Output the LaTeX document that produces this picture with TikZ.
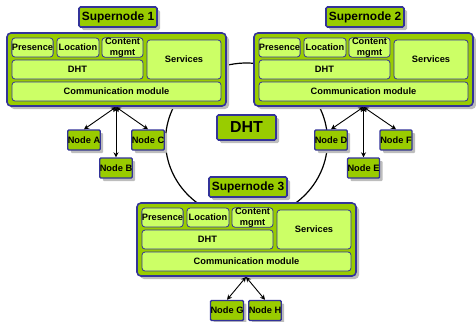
\documentclass[tikz,border=0pt]{standalone}
\usepackage{fontspec}
\setmainfont{Liberation Sans}
\usetikzlibrary{shadows,arrows.meta}
\definecolor{olive}{HTML}{99CC00}
\definecolor{lightg}{HTML}{CCFF66}
\definecolor{bcol}{HTML}{333399}
\definecolor{shadowg}{HTML}{BDBDBD}
\tikzset{
  shad/.style={drop shadow={shadow xshift=3bp,shadow yshift=-3bp,fill=shadowg,opacity=1}},
  outer/.style={draw=bcol,line width=1.6bp,fill=olive,rounded corners=4bp,shad,inner sep=0pt},
  lab/.style={draw=bcol,line width=1.6bp,fill=olive,rounded corners=1.5bp,shad,inner sep=0pt,
    font=\fontsize{12}{12}\selectfont\bfseries},
  inner/.style={draw=bcol,line width=0.8bp,fill=lightg,rounded corners=3bp,inner sep=0pt,
    font=\fontsize{9.3}{11}\selectfont\bfseries,align=center},
  leaf/.style={draw=bcol,line width=1.4bp,fill=olive,rounded corners=1bp,shad,inner sep=0pt,
    minimum width=32bp,minimum height=20bp,font=\fontsize{9.3}{9.5}\selectfont\bfseries},
  link/.style={{Stealth[length=5bp,width=5bp]}-{Stealth[length=5bp,width=5bp]},line width=0.9bp,black},
  ring/.style={line width=1.2bp,black}
}
\newcommand\snblock[3]{%
\begin{scope}[shift={(#2,#3)}]
\node[lab,minimum width=78bp,minimum height=20bp] (lab#1) at (118,17) {Supernode #1};
\node[outer,minimum width=219bp,minimum height=73bp] (sn#1) at (116.5,69.5) {};
\node[inner,minimum width=41bp,minimum height=19bp] (pres#1) at (32.5,47.5) {Presence};
\node[inner,minimum width=42bp,minimum height=19bp] (loc#1) at (78,47.5) {Location};
\node[inner,minimum width=41bp,minimum height=19bp] (cont#1) at (122.5,47.5) {Content\\mgmt};
\node[inner,minimum width=74bp,minimum height=39bp] (serv#1) at (184,59.5) {Services};
\node[inner,minimum width=131bp,minimum height=19bp] (dht#1) at (77.5,69.5) {DHT};
\node[inner,minimum width=209bp,minimum height=19bp] (com#1) at (116.5,91.5) {Communication module};
\end{scope}}
\begin{document}
\begin{tikzpicture}[x=1bp,y=-1bp]
\useasboundingbox (0,0) rectangle (476,321);
\draw[ring] (246.5,141) ellipse [x radius=81, y radius=78];
\snblock{1}{0}{0}
\snblock{2}{247}{0}
\snblock{3}{130}{170}
\node[lab,minimum width=59bp,minimum height=25bp,font=\fontsize{16}{16}\selectfont\bfseries] (dhtmain) at (246.5,127.5) {DHT};
\node[leaf] (nA) at (84,140) {Node A};
\node[leaf] (nC) at (148,140) {Node C};
\node[leaf] (nB) at (116,168) {Node B};
\node[leaf] (nD) at (331,140) {Node D};
\node[leaf] (nF) at (396,140) {Node F};
\node[leaf] (nE) at (363.5,168) {Node E};
\node[leaf] (nG) at (227,310.5) {Node G};
\node[leaf] (nH) at (265,310.5) {Node H};
\coordinate (h1) at (116,107);
\coordinate (h2) at (363.5,107);
\coordinate (h3) at (246,277);
\draw[link] (h1) -- (nA.north);
\draw[link] (h1) -- (nB.north);
\draw[link] (h1) -- (nC.north);
\draw[link] (h2) -- (nD.north);
\draw[link] (h2) -- (nE.north);
\draw[link] (h2) -- (nF.north);
\draw[link] (h3) -- (nG.north);
\draw[link] (h3) -- (nH.north);
\end{tikzpicture}
\end{document}
